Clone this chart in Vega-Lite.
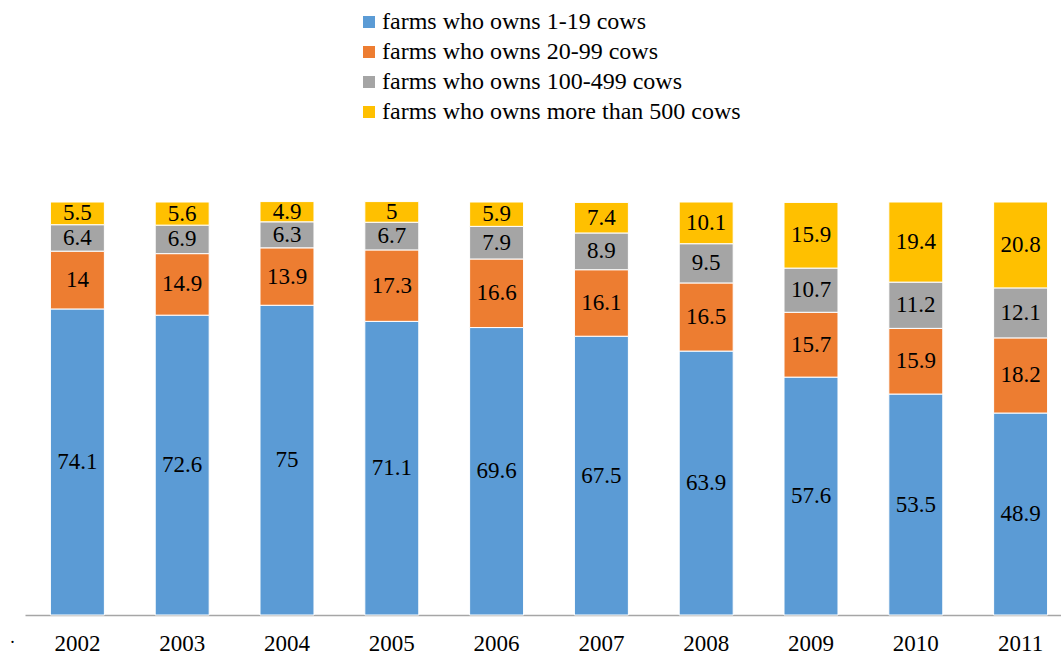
{
  "$schema": "https://vega.github.io/schema/vega-lite/v6.json",
  "width": 1036,
  "height": 413,
  "autosize": {"type": "none"},
  "padding": {"left": 25, "top": 202, "right": 0, "bottom": 39},
  "background": "white",
  "config": {
    "view": {"stroke": null},
    "font": "Liberation Serif"
  },
  "data": {
    "values": [
      {"year": "2002", "cat": "farms who owns 1-19 cows", "k": 1, "v": 74.1},
      {"year": "2002", "cat": "farms who owns 20-99 cows", "k": 2, "v": 14},
      {"year": "2002", "cat": "farms who owns 100-499 cows", "k": 3, "v": 6.4},
      {"year": "2002", "cat": "farms who owns more than 500 cows", "k": 4, "v": 5.5},
      {"year": "2003", "cat": "farms who owns 1-19 cows", "k": 1, "v": 72.6},
      {"year": "2003", "cat": "farms who owns 20-99 cows", "k": 2, "v": 14.9},
      {"year": "2003", "cat": "farms who owns 100-499 cows", "k": 3, "v": 6.9},
      {"year": "2003", "cat": "farms who owns more than 500 cows", "k": 4, "v": 5.6},
      {"year": "2004", "cat": "farms who owns 1-19 cows", "k": 1, "v": 75},
      {"year": "2004", "cat": "farms who owns 20-99 cows", "k": 2, "v": 13.9},
      {"year": "2004", "cat": "farms who owns 100-499 cows", "k": 3, "v": 6.3},
      {"year": "2004", "cat": "farms who owns more than 500 cows", "k": 4, "v": 4.9},
      {"year": "2005", "cat": "farms who owns 1-19 cows", "k": 1, "v": 71.1},
      {"year": "2005", "cat": "farms who owns 20-99 cows", "k": 2, "v": 17.3},
      {"year": "2005", "cat": "farms who owns 100-499 cows", "k": 3, "v": 6.7},
      {"year": "2005", "cat": "farms who owns more than 500 cows", "k": 4, "v": 5},
      {"year": "2006", "cat": "farms who owns 1-19 cows", "k": 1, "v": 69.6},
      {"year": "2006", "cat": "farms who owns 20-99 cows", "k": 2, "v": 16.6},
      {"year": "2006", "cat": "farms who owns 100-499 cows", "k": 3, "v": 7.9},
      {"year": "2006", "cat": "farms who owns more than 500 cows", "k": 4, "v": 5.9},
      {"year": "2007", "cat": "farms who owns 1-19 cows", "k": 1, "v": 67.5},
      {"year": "2007", "cat": "farms who owns 20-99 cows", "k": 2, "v": 16.1},
      {"year": "2007", "cat": "farms who owns 100-499 cows", "k": 3, "v": 8.9},
      {"year": "2007", "cat": "farms who owns more than 500 cows", "k": 4, "v": 7.4},
      {"year": "2008", "cat": "farms who owns 1-19 cows", "k": 1, "v": 63.9},
      {"year": "2008", "cat": "farms who owns 20-99 cows", "k": 2, "v": 16.5},
      {"year": "2008", "cat": "farms who owns 100-499 cows", "k": 3, "v": 9.5},
      {"year": "2008", "cat": "farms who owns more than 500 cows", "k": 4, "v": 10.1},
      {"year": "2009", "cat": "farms who owns 1-19 cows", "k": 1, "v": 57.6},
      {"year": "2009", "cat": "farms who owns 20-99 cows", "k": 2, "v": 15.7},
      {"year": "2009", "cat": "farms who owns 100-499 cows", "k": 3, "v": 10.7},
      {"year": "2009", "cat": "farms who owns more than 500 cows", "k": 4, "v": 15.9},
      {"year": "2010", "cat": "farms who owns 1-19 cows", "k": 1, "v": 53.5},
      {"year": "2010", "cat": "farms who owns 20-99 cows", "k": 2, "v": 15.9},
      {"year": "2010", "cat": "farms who owns 100-499 cows", "k": 3, "v": 11.2},
      {"year": "2010", "cat": "farms who owns more than 500 cows", "k": 4, "v": 19.4},
      {"year": "2011", "cat": "farms who owns 1-19 cows", "k": 1, "v": 48.9},
      {"year": "2011", "cat": "farms who owns 20-99 cows", "k": 2, "v": 18.2},
      {"year": "2011", "cat": "farms who owns 100-499 cows", "k": 3, "v": 12.1},
      {"year": "2011", "cat": "farms who owns more than 500 cows", "k": 4, "v": 20.8}
    ]
  },
  "transform": [
    {"stack": "v", "groupby": ["year"], "sort": [{"field": "k", "order": "ascending"}], "as": ["y0", "y1"]}
  ],
  "encoding": {
    "x": {
      "field": "year",
      "type": "nominal",
      "scale": {"paddingInner": 0.485, "paddingOuter": 0.2425, "range": [0, 1048]},
      "axis": {
        "title": "·",
        "titleX": -13,
        "titleY": 27,
        "titleAlign": "center",
        "titleBaseline": "middle",
        "titleFont": "Liberation Serif",
        "titleFontSize": 18,
        "titleFontWeight": "normal",
        "titleColor": "black",
        "labelAngle": 0,
        "labelFont": "Liberation Serif",
        "labelFontSize": 23,
        "labelColor": "black",
        "labelPadding": 17,
        "ticks": false,
        "domainColor": "#A6A6A6",
        "domainWidth": 1.5
      }
    }
  },
  "layer": [
    {
      "mark": {"type": "bar", "stroke": "white", "strokeWidth": 1},
      "encoding": {
        "y": {"field": "y0", "type": "quantitative", "scale": {"domain": [0, 100], "nice": false}, "axis": null},
        "y2": {"field": "y1"},
        "color": {
          "field": "cat",
          "type": "nominal",
          "scale": {
            "domain": ["farms who owns 1-19 cows", "farms who owns 20-99 cows", "farms who owns 100-499 cows", "farms who owns more than 500 cows"],
            "range": ["#5B9BD5", "#ED7D31", "#A5A5A5", "#FFC000"]
          },
          "legend": {
            "title": null,
            "orient": "none",
            "legendX": 332,
            "legendY": -192,
            "padding": 0,
            "symbolType": "square",
            "symbolSize": 144,
            "symbolStrokeWidth": 0,
            "labelFont": "Liberation Serif",
            "labelFontSize": 24,
            "labelColor": "black",
            "labelOffset": 1,
            "rowPadding": 6,
            "labelLimit": 600
          }
        }
      }
    },
    {
      "transform": [
        {"fold": ["y0", "y1"], "as": ["edge", "pos"]},
        {"aggregate": [{"op": "mean", "field": "pos", "as": "mid"}], "groupby": ["year", "cat", "v"]}
      ],
      "mark": {"type": "text", "font": "Liberation Serif", "fontSize": 23, "color": "black", "baseline": "middle", "align": "center"},
      "encoding": {
        "y": {"field": "mid", "type": "quantitative", "scale": {"domain": [0, 100], "nice": false}},
        "text": {"field": "v", "type": "nominal"}
      }
    }
  ]
}
